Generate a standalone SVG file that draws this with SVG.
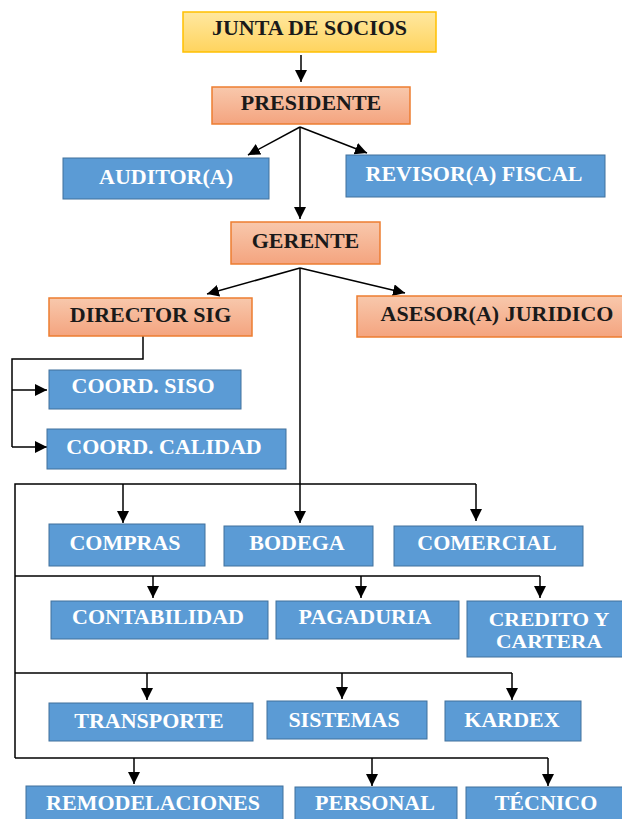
<svg xmlns="http://www.w3.org/2000/svg" width="622" height="819" viewBox="0 0 622 819">
<defs>
<linearGradient id="gY" x1="0" y1="0" x2="0" y2="1"><stop offset="0" stop-color="#FFE8A0"/><stop offset="1" stop-color="#FFD45E"/></linearGradient>
<linearGradient id="gO" x1="0" y1="0" x2="0" y2="1"><stop offset="0" stop-color="#F8C8AC"/><stop offset="1" stop-color="#F4A47F"/></linearGradient>
<marker id="ah" markerUnits="userSpaceOnUse" markerWidth="12" markerHeight="12" viewBox="0 0 12 12" refX="12" refY="6" orient="auto"><path d="M0,0 L12,6 L0,12 z" fill="#000"/></marker>
<style>
.y{fill:url(#gY);stroke:#FFC000;stroke-width:1.5}
.o{fill:url(#gO);stroke:#ED7D31;stroke-width:1.5}
.b{fill:#5B9BD5;stroke:#41719C;stroke-width:1}
text{font-family:"Liberation Serif","Times New Roman",serif;font-weight:bold;font-size:20px;text-anchor:middle}
.sm{font-size:18px}
.dk{fill:#1A1A1A}
.wt{fill:#FFFFFF}
.c{fill:none;stroke:#000;stroke-width:1.5}
.a{fill:none;stroke:#000;stroke-width:1.5;marker-end:url(#ah)}
</style>
</defs>
<g id="connectors">
<line class="a" x1="301" y1="55" x2="301" y2="82"/>
<line class="a" x1="300" y1="127" x2="248" y2="155"/>
<line class="a" x1="300" y1="127" x2="367" y2="153"/>
<line class="a" x1="300" y1="127" x2="300" y2="219"/>
<line class="a" x1="300" y1="268" x2="207" y2="294"/>
<line class="a" x1="300" y1="268" x2="405" y2="293"/>
<line class="a" x1="300" y1="268" x2="300" y2="523"/>
<polyline class="c" points="143,336 143,359 12,359 12,447"/>
<line class="a" x1="12" y1="390" x2="47" y2="390"/>
<line class="a" x1="12" y1="447" x2="47" y2="447"/>
<polyline class="c" points="476,484 15,484 15,758"/>
<line class="a" x1="123" y1="484" x2="123" y2="523"/>
<line class="a" x1="476" y1="484" x2="476" y2="521"/>
<line class="c" x1="15" y1="576" x2="540" y2="576"/>
<line class="a" x1="153" y1="576" x2="153" y2="598"/>
<line class="a" x1="361" y1="576" x2="361" y2="598"/>
<line class="a" x1="540" y1="576" x2="540" y2="598"/>
<line class="c" x1="15" y1="673" x2="512" y2="673"/>
<line class="a" x1="147" y1="673" x2="147" y2="700"/>
<line class="a" x1="342" y1="673" x2="342" y2="699"/>
<line class="a" x1="512" y1="673" x2="512" y2="700"/>
<line class="c" x1="15" y1="758" x2="548" y2="758"/>
<line class="a" x1="134" y1="758" x2="134" y2="784"/>
<line class="a" x1="372" y1="758" x2="372" y2="786"/>
<line class="a" x1="548" y1="758" x2="548" y2="786"/>
</g>
<g id="junta"><rect class="y" x="183" y="12" width="253" height="40"/><text class="dk" transform="translate(309.5 35) scale(1.1 1)">JUNTA DE SOCIOS</text></g>
<g id="presidente"><rect class="o" x="212" y="87" width="198" height="37"/><text class="dk" transform="translate(311 110) scale(1.1 1)">PRESIDENTE</text></g>
<g id="auditor"><rect class="b" x="63" y="158" width="206" height="41"/><text class="wt" transform="translate(166 184) scale(1.1 1)">AUDITOR(A)</text></g>
<g id="revisor"><rect class="b" x="346" y="155" width="259" height="42"/><text class="wt" transform="translate(474 181) scale(1.1 1)">REVISOR(A) FISCAL</text></g>
<g id="gerente"><rect class="o" x="231" y="222" width="149" height="42"/><text class="dk" transform="translate(305.5 248) scale(1.1 1)">GERENTE</text></g>
<g id="director"><rect class="o" x="49" y="298" width="203" height="38"/><text class="dk" transform="translate(150.5 322) scale(1.1 1)">DIRECTOR SIG</text></g>
<g id="asesor"><rect class="o" x="357" y="296" width="283" height="41"/><text class="dk" transform="translate(497 321) scale(1.1 1)">ASESOR(A) JURIDICO</text></g>
<g id="siso"><rect class="b" x="49" y="370" width="192" height="39"/><text class="wt" transform="translate(143 393) scale(1.1 1)">COORD. SISO</text></g>
<g id="calidad"><rect class="b" x="47" y="429" width="239" height="40"/><text class="wt" transform="translate(164 454) scale(1.1 1)">COORD. CALIDAD</text></g>
<g id="compras"><rect class="b" x="49" y="524" width="156" height="42"/><text class="wt" transform="translate(125 550) scale(1.1 1)">COMPRAS</text></g>
<g id="bodega"><rect class="b" x="224" y="526" width="149" height="40"/><text class="wt" transform="translate(297 550) scale(1.1 1)">BODEGA</text></g>
<g id="comercial"><rect class="b" x="394" y="526" width="189" height="40"/><text class="wt" transform="translate(487 550) scale(1.1 1)">COMERCIAL</text></g>
<g id="contabilidad"><rect class="b" x="51" y="601" width="217" height="38"/><text class="wt" transform="translate(158 624) scale(1.1 1)">CONTABILIDAD</text></g>
<g id="pagaduria"><rect class="b" x="276" y="601" width="183" height="38"/><text class="wt" transform="translate(365 624) scale(1.1 1)">PAGADURIA</text></g>
<g id="credito"><rect class="b" x="467" y="601" width="165" height="56"/><text class="wt sm" transform="translate(549 626) scale(1.2 1.05)">CREDITO Y</text><text class="wt sm" transform="translate(549 648) scale(1.2 1.05)">CARTERA</text></g>
<g id="transporte"><rect class="b" x="49" y="703" width="204" height="38"/><text class="wt" transform="translate(149 728) scale(1.1 1)">TRANSPORTE</text></g>
<g id="sistemas"><rect class="b" x="267" y="701" width="160" height="38"/><text class="wt" transform="translate(344 727) scale(1.1 1)">SISTEMAS</text></g>
<g id="kardex"><rect class="b" x="445" y="701" width="136" height="40"/><text class="wt" transform="translate(512 727) scale(1.1 1)">KARDEX</text></g>
<g id="remodelaciones"><rect class="b" x="26" y="786" width="257" height="40"/><text class="wt" transform="translate(153 810) scale(1.1 1)">REMODELACIONES</text></g>
<g id="personal"><rect class="b" x="295" y="787" width="162" height="40"/><text class="wt" transform="translate(375 810) scale(1.1 1)">PERSONAL</text></g>
<g id="tecnico"><rect class="b" x="466" y="787" width="162" height="40"/><text class="wt" transform="translate(546 810) scale(1.1 1)">TÉCNICO</text></g>
</svg>
